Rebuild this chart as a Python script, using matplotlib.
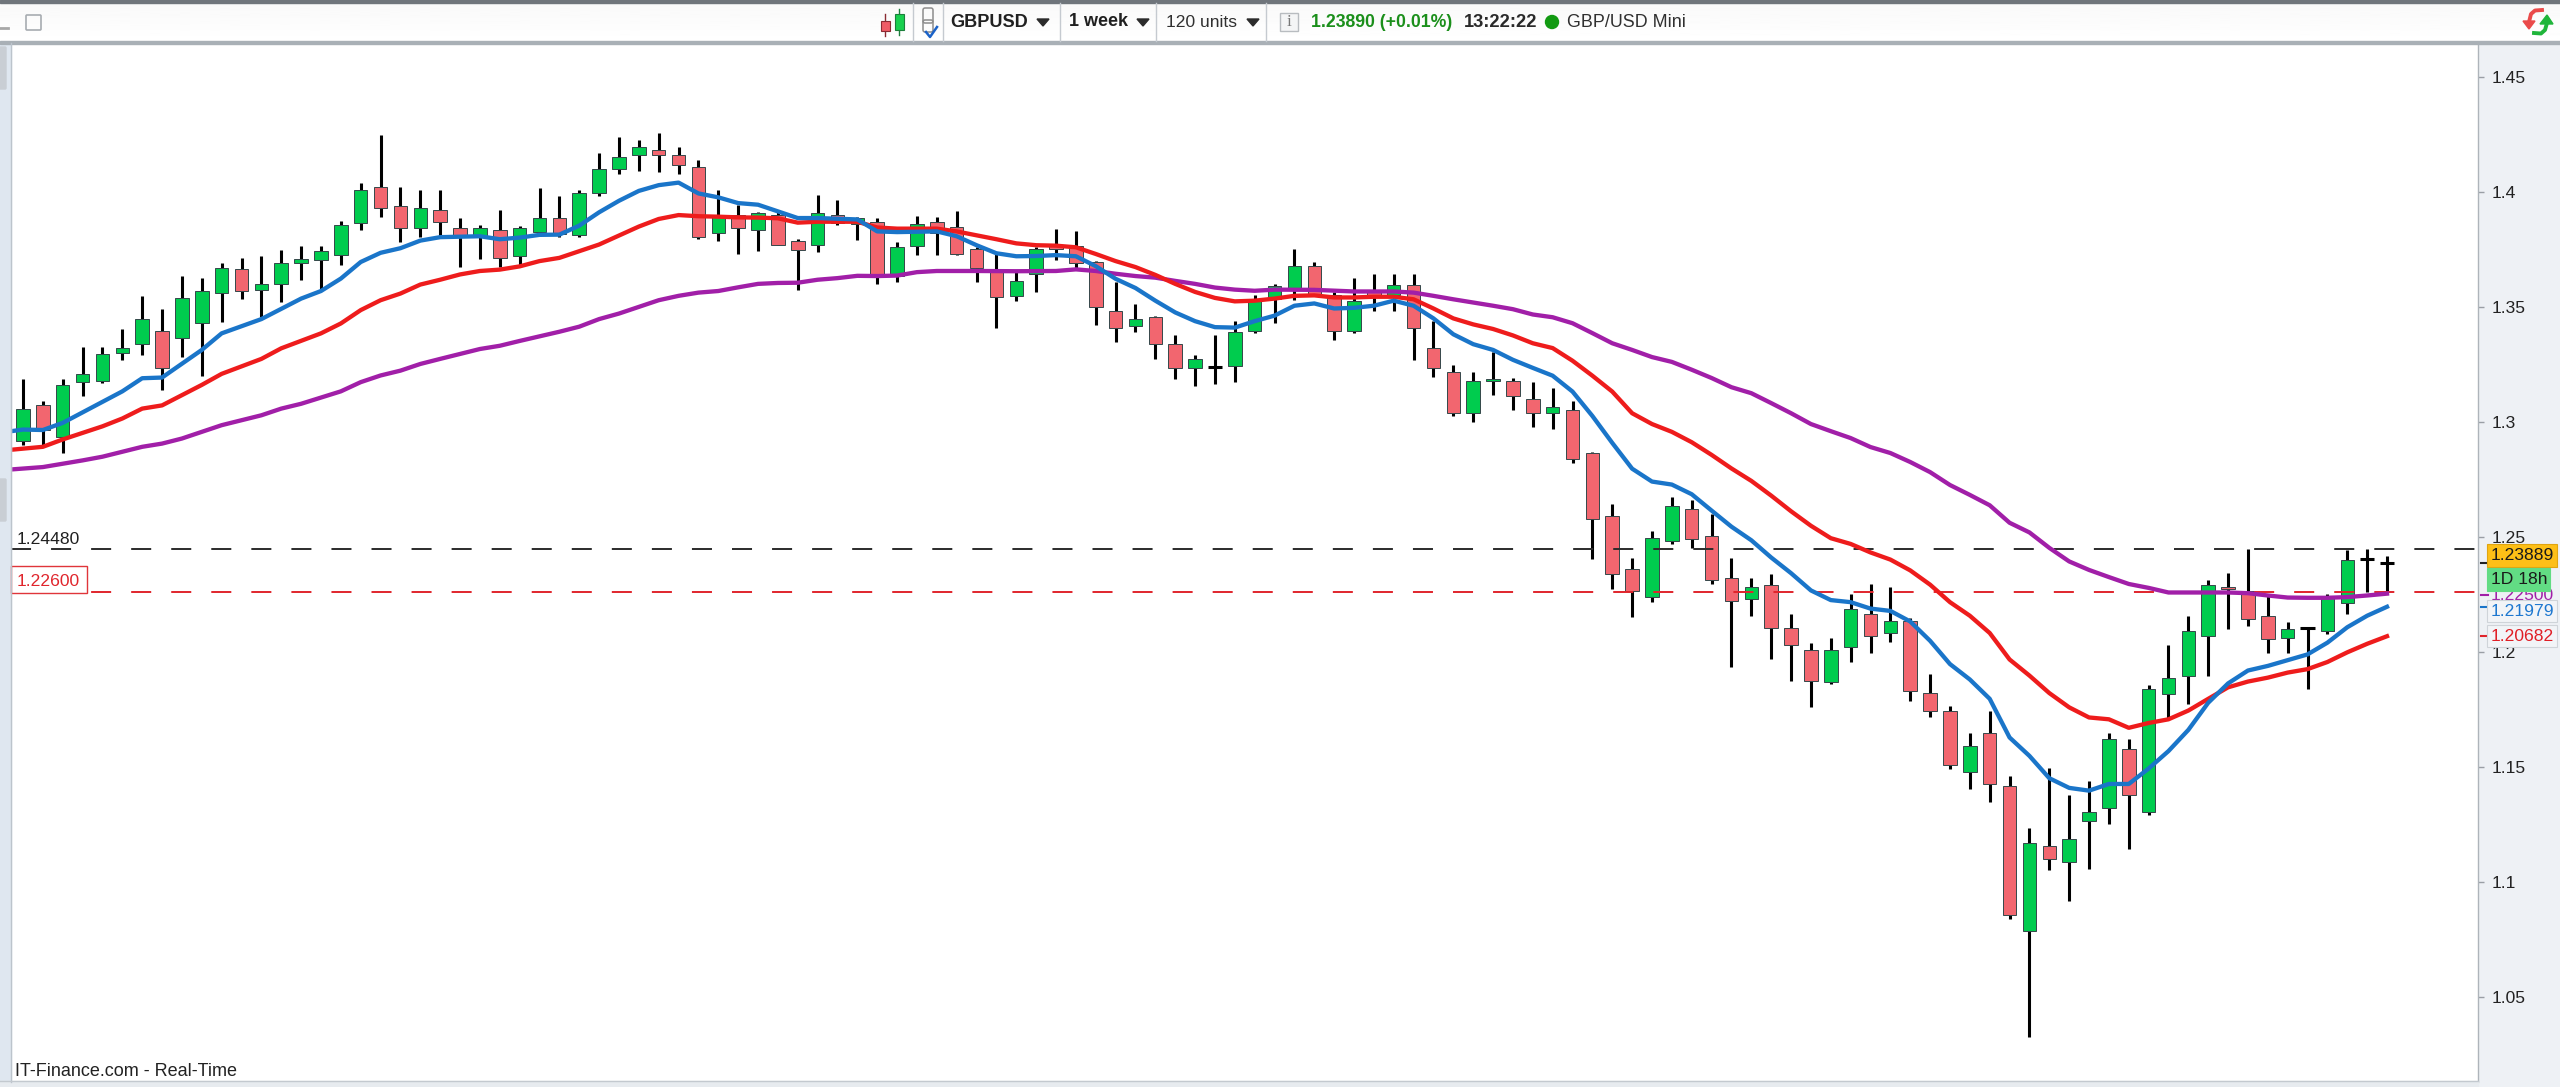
import matplotlib

matplotlib.use("Agg")

import matplotlib.pyplot as plt
import numpy as np
from matplotlib.patches import Circle, FancyBboxPatch, Polygon, Rectangle

plt.rcParams["font.family"] = ["Liberation Sans", "DejaVu Sans"]

WIDTH = 2560
HEIGHT = 1087

# weekly candles
opens = [
    1.2919, 1.3072, 1.2934, 1.3173, 1.3179, 1.3301, 1.3337, 1.3396, 1.3366, 1.3431,
    1.3561, 1.3663, 1.3575, 1.3598, 1.3689, 1.3705, 1.3726, 1.3865, 1.4023, 1.3937,
    1.3842, 1.3922, 1.3843, 1.3807, 1.3836, 1.3719, 1.3827, 1.3886, 1.3813, 1.3993,
    1.4101, 1.4160, 1.4182, 1.4160, 1.4110, 1.3820, 1.3901, 1.3836, 1.3901, 1.3785,
    1.3771, 1.3899, 1.3859, 1.3868, 1.3636, 1.3764, 1.3868, 1.3845, 1.3751, 1.3665,
    1.3548, 1.3642, 1.3764, 1.3764, 1.3694, 1.3481, 1.3417, 1.3455, 1.3338, 1.3235,
    1.3239, 1.3244, 1.3395, 1.3536, 1.3582, 1.3679, 1.3553, 1.3397, 1.3567, 1.3553,
    1.3593, 1.3321, 1.3215, 1.3041, 1.3177, 1.3179, 1.3098, 1.3041, 1.3050, 1.2866,
    1.2593, 1.2359, 1.2239, 1.2483, 1.2620, 1.2503, 1.2323, 1.2229, 1.2290, 1.2106,
    1.2010, 1.1872, 1.2024, 1.2165, 1.2083, 1.2135, 1.1824, 1.1743, 1.1477, 1.1650,
    1.1418, 1.0788, 1.1158, 1.1090, 1.1265, 1.1322, 1.1578, 1.1306, 1.1817, 1.1896,
    1.2069, 1.2281, 1.2264, 1.2158, 1.2062, 1.2103, 1.2091, 1.2215, 1.2404, 1.2389,
]
highs = [
    1.3187, 1.3092, 1.3187, 1.3324, 1.3324, 1.3404, 1.3548, 1.3490, 1.3634, 1.3625,
    1.3692, 1.3713, 1.3720, 1.3749, 1.3764, 1.3764, 1.3872, 1.4038, 1.4247, 1.4023,
    1.4009, 1.4009, 1.3886, 1.3857, 1.3922, 1.3850, 1.4016, 1.3980, 1.4009, 1.4167,
    1.4239, 1.4225, 1.4254, 1.4196, 1.4138, 1.4009, 1.3944, 1.3911, 1.3915, 1.3793,
    1.3987, 1.3966, 1.3892, 1.3885, 1.3780, 1.3897, 1.3892, 1.3917, 1.3759, 1.3730,
    1.3660, 1.3759, 1.3840, 1.3831, 1.3699, 1.3608, 1.3514, 1.3462, 1.3376, 1.3290,
    1.3376, 1.3438, 1.3553, 1.3600, 1.3751, 1.3694, 1.3565, 1.3627, 1.3644, 1.3644,
    1.3644, 1.3438, 1.3249, 1.3215, 1.3304, 1.3192, 1.3172, 1.3149, 1.3089, 1.2868,
    1.2643, 1.2411, 1.2527, 1.2672, 1.2663, 1.2599, 1.2411, 1.2323, 1.2338, 1.2165,
    1.2041, 1.2062, 1.2251, 1.2296, 1.2281, 1.2150, 1.1903, 1.1766, 1.1650, 1.1743,
    1.1460, 1.1237, 1.1497, 1.1381, 1.1440, 1.1650, 1.1623, 1.1859, 1.2032, 1.2158,
    1.2315, 1.2343, 1.2448, 1.2242, 1.2130, 1.2103, 1.2251, 1.2444, 1.2448, 1.2416,
]
lows = [
    1.2902, 1.2895, 1.2866, 1.3111, 1.3169, 1.3270, 1.3291, 1.3140, 1.3284, 1.3198,
    1.3435, 1.3536, 1.3457, 1.3522, 1.3615, 1.3572, 1.3680, 1.3832, 1.3889, 1.3781,
    1.3803, 1.3807, 1.3673, 1.3709, 1.3673, 1.3680, 1.3810, 1.3803, 1.3803, 1.3983,
    1.4077, 1.4091, 1.4084, 1.4077, 1.3796, 1.3788, 1.3731, 1.3745, 1.3767, 1.3572,
    1.3738, 1.3856, 1.3790, 1.3601, 1.3610, 1.3725, 1.3725, 1.3725, 1.3608, 1.3407,
    1.3527, 1.3565, 1.3703, 1.3665, 1.3421, 1.3347, 1.3393, 1.3275, 1.3187, 1.3158,
    1.3167, 1.3175, 1.3385, 1.3428, 1.3531, 1.3548, 1.3356, 1.3386, 1.3484, 1.3484,
    1.3270, 1.3196, 1.3024, 1.3000, 1.3115, 1.3051, 1.2978, 1.2969, 1.2820, 1.2406,
    1.2273, 1.2153, 1.2217, 1.2471, 1.2454, 1.2298, 1.1935, 1.2158, 1.1970, 1.1876,
    1.1760, 1.1861, 1.1956, 1.1998, 1.2044, 1.1788, 1.1718, 1.1492, 1.1406, 1.1348,
    1.0841, 1.0328, 1.1052, 1.0920, 1.1058, 1.1253, 1.1146, 1.1290, 1.1704, 1.1775,
    1.1898, 1.2101, 1.2115, 1.1994, 1.1998, 1.1839, 1.2079, 1.2167, 1.2259, 1.2259,
]
closes = [
    1.3058, 1.2967, 1.3159, 1.3208, 1.3295, 1.3323, 1.3447, 1.3236, 1.3540, 1.3569,
    1.3670, 1.3568, 1.3598, 1.3692, 1.3706, 1.3742, 1.3857, 1.4009, 1.3928, 1.3842,
    1.3930, 1.3870, 1.3803, 1.3843, 1.3712, 1.3843, 1.3886, 1.3817, 1.3994, 1.4101,
    1.4153, 1.4196, 1.4160, 1.4117, 1.3804, 1.3894, 1.3842, 1.3908, 1.3770, 1.3749,
    1.3908, 1.3865, 1.3885, 1.3636, 1.3759, 1.3859, 1.3819, 1.3728, 1.3670, 1.3541,
    1.3613, 1.3751, 1.3751, 1.3691, 1.3498, 1.3410, 1.3448, 1.3338, 1.3235, 1.3273,
    1.3239, 1.3390, 1.3527, 1.3589, 1.3679, 1.3553, 1.3397, 1.3527, 1.3553, 1.3593,
    1.3410, 1.3235, 1.3039, 1.3179, 1.3187, 1.3112, 1.3041, 1.3064, 1.2837, 1.2577,
    1.2339, 1.2265, 1.2497, 1.2634, 1.2491, 1.2313, 1.2221, 1.2281, 1.2106, 1.2032,
    1.1874, 1.2010, 1.2187, 1.2069, 1.2135, 1.1829, 1.1743, 1.1511, 1.1590, 1.1425,
    1.0858, 1.1171, 1.1099, 1.1186, 1.1304, 1.1623, 1.1381, 1.1839, 1.1889, 1.2091,
    1.2293, 1.2273, 1.2142, 1.2056, 1.2099, 1.2103, 1.2234, 1.2402, 1.2404, 1.2389,
]

# moving averages, as (candle index, level)
blue_x = [-1, 0, 1, 2, 5, 6, 7, 9, 10, 12, 14, 15, 16, 17, 18, 19, 20, 21, 23, 24, 25, 26, 27, 28,
          29, 30, 31, 32, 33, 34, 35, 36, 37, 38, 39, 40, 42, 43, 44, 46] + list(range(47, 120))
blue_ma = [
    1.2955, 1.2967, 1.2965, 1.2996, 1.3133, 1.3190, 1.3193, 1.3313, 1.3385, 1.3447,
    1.3536, 1.3569, 1.3623, 1.3695, 1.3735, 1.3755, 1.3788, 1.3803, 1.3807, 1.3794,
    1.3801, 1.3813, 1.3814, 1.3853, 1.3911, 1.3961, 1.4004, 1.4029, 1.4040, 1.3993,
    1.3976, 1.3951, 1.3944, 1.3915, 1.3886, 1.3886, 1.3880, 1.3828, 1.3825, 1.3828,
    1.3807, 1.3768, 1.3733, 1.3720, 1.3721, 1.3725, 1.3720, 1.3677, 1.3622, 1.3582,
    1.3527, 1.3476, 1.3438, 1.3412, 1.3410, 1.3438, 1.3462, 1.3505, 1.3515, 1.3493,
    1.3496, 1.3505, 1.3527, 1.3505, 1.3450, 1.3381, 1.3338, 1.3313, 1.3270, 1.3235,
    1.3201, 1.3132, 1.3026, 1.2909, 1.2797, 1.2741, 1.2728, 1.2686, 1.2615, 1.2545,
    1.2486, 1.2411, 1.2343, 1.2268, 1.2226, 1.2217, 1.2189, 1.2179, 1.2133, 1.2049,
    1.1948, 1.1881, 1.1797, 1.1629, 1.1549, 1.1452, 1.1410, 1.1398, 1.1427, 1.1427,
    1.1494, 1.1570, 1.1662, 1.1780, 1.1864, 1.1920, 1.1940, 1.1965, 1.1990, 1.2041,
    1.2108, 1.2158, 1.2197,
]
red_x = [-1, 1, 2, 4, 5, 6, 7, 9, 10, 12, 13, 15, 16, 17, 18, 19, 20, 21, 22, 23, 24, 25, 26, 27,
         28, 29, 30, 31, 32, 33, 34, 35, 36, 37, 38, 39, 40, 42, 43, 44, 46] + list(range(47, 120))
red_ma = [
    1.2876, 1.2892, 1.2924, 1.2981, 1.3015, 1.3058, 1.3072, 1.3161, 1.3209, 1.3274,
    1.3320, 1.3385, 1.3428, 1.3486, 1.3529, 1.3558, 1.3597, 1.3618, 1.3641, 1.3656,
    1.3662, 1.3676, 1.3699, 1.3713, 1.3742, 1.3771, 1.3810, 1.3849, 1.3882, 1.3899,
    1.3894, 1.3892, 1.3889, 1.3888, 1.3885, 1.3866, 1.3870, 1.3870, 1.3845, 1.3840, 1.3840,
    1.3828, 1.3811, 1.3794, 1.3776, 1.3768, 1.3766, 1.3759, 1.3730, 1.3699, 1.3673,
    1.3639, 1.3600, 1.3565, 1.3539, 1.3524, 1.3527, 1.3536, 1.3548, 1.3550, 1.3541,
    1.3541, 1.3544, 1.3544, 1.3533, 1.3493, 1.3450, 1.3424, 1.3404, 1.3376, 1.3342,
    1.3321, 1.3266, 1.3201, 1.3132, 1.3038, 1.2991, 1.2957, 1.2912, 1.2857, 1.2798,
    1.2744, 1.2680, 1.2612, 1.2549, 1.2495, 1.2470, 1.2433, 1.2402, 1.2355, 1.2293,
    1.2217, 1.2158, 1.2083, 1.1968, 1.1898, 1.1822, 1.1760, 1.1716, 1.1708, 1.1671,
    1.1692, 1.1708, 1.1746, 1.1797, 1.1847, 1.1872, 1.1889, 1.1911, 1.1926, 1.1957,
    1.1999, 1.2036, 1.2069,
]
purple_x = [-1, 1, 3, 4, 6, 7, 8, 10, 12, 13, 14, 16, 17, 18, 19, 20, 21, 23, 24, 25, 27, 28, 29,
            30, 31, 32, 33, 34, 35, 36, 37, 38, 39, 40, 41, 42, 43, 44, 45, 46, 48, 50, 52, 53, 54,
            55, 56, 57, 58, 59, 60, 61, 62, 63, 65, 67, 69] + list(range(70, 120))
purple_ma = [
    1.2791, 1.2804, 1.2833, 1.2849, 1.2892, 1.2906, 1.2928, 1.2986, 1.3029, 1.3058,
    1.3079, 1.3133, 1.3173, 1.3202, 1.3223, 1.3252, 1.3274, 1.3317, 1.3331, 1.3352,
    1.3392, 1.3414, 1.3447, 1.3471, 1.3500, 1.3529, 1.3548, 1.3562, 1.3569, 1.3585,
    1.3600, 1.3604, 1.3605, 1.3618, 1.3625, 1.3635, 1.3634, 1.3636, 1.3651, 1.3656,
    1.3656, 1.3655, 1.3656, 1.3663, 1.3656, 1.3644, 1.3634, 1.3627, 1.3613, 1.3600,
    1.3584, 1.3575, 1.3570, 1.3575, 1.3574, 1.3567, 1.3567, 1.3562, 1.3548, 1.3533,
    1.3519, 1.3505, 1.3490, 1.3467, 1.3455, 1.3429, 1.3386, 1.3342, 1.3313, 1.3282,
    1.3261, 1.3227, 1.3191, 1.3151, 1.3125, 1.3082, 1.3038, 1.2991, 1.2960, 1.2930,
    1.2891, 1.2865, 1.2826, 1.2782, 1.2726, 1.2683, 1.2638, 1.2562, 1.2520, 1.2453,
    1.2394, 1.2357, 1.2326, 1.2296, 1.2279, 1.2259, 1.2259, 1.2259, 1.2259, 1.2256,
    1.2246, 1.2237, 1.2236, 1.2236, 1.2239, 1.2246, 1.2254,
]

axis_ticks = [1.05, 1.1, 1.15, 1.2, 1.25, 1.3, 1.35, 1.4, 1.45]
resistance = 1.2448
support = 1.2260
last_price = 1.23889
purple_last = 1.22500
blue_last = 1.21979
red_last = 1.20682


def add_tag(ui, top, bottom, right, text, face, edge, color):
    ui.add_patch(Rectangle((2487, top), right - 2487, bottom - top, facecolor=face,
                           edgecolor=edge, linewidth=0.8, zorder=2))
    ui.text(2491, (top + bottom) / 2 + 0.5, text, color=color, fontsize=12.6,
            ha="left", va="center", zorder=3)


def dropdown(ui, x, y):
    ui.add_patch(Polygon([(x - 6, y - 3), (x + 6, y - 3), (x, y + 4)], color="#2b2b2b"))


def draw_toolbar(ui):
    ui.imshow(np.linspace(0.975, 1.0, 32).reshape(-1, 1), extent=(0, WIDTH, 42, 2),
              cmap="gray", vmin=0, vmax=1, aspect="auto", zorder=1)
    ui.add_patch(Rectangle((0, 0), WIDTH, 3, color="#6f757b", zorder=2))
    ui.add_patch(Rectangle((0, 41), WIDTH, 2.5, color="#a9b0b6", zorder=2))
    ui.set_xlim(0, WIDTH)
    ui.set_ylim(HEIGHT, 0)

    for x in (913, 943, 1059.5, 1156, 1266):
        ui.plot([x, x], [3, 41], color="#c5cad0", lw=1.0, zorder=3)

    # candle icon
    ui.plot([885, 885], [14, 36], color="#8a2b33", lw=1.0, zorder=3)
    ui.add_patch(Rectangle((881, 21), 8.5, 10, facecolor="#ef5b66", edgecolor="#8a2b33", lw=0.8, zorder=4))
    ui.plot([899, 899], [9, 35], color="#1c7f3c", lw=1.0, zorder=3)
    ui.add_patch(Rectangle((894.5, 14), 9, 16, facecolor="#18d04f", edgecolor="#1c7f3c", lw=0.8, zorder=4))

    # chain and tick icon
    ui.add_patch(FancyBboxPatch((925, 10), 6, 11, boxstyle="round,pad=2", fill=False, ec="#8d8d8d", lw=1.1, zorder=3))
    ui.add_patch(FancyBboxPatch((925, 22), 6, 8, boxstyle="round,pad=2", fill=False, ec="#8d8d8d", lw=1.1, zorder=3))
    ui.plot([926, 930, 937], [32, 37, 27], color="#1a62c8", lw=1.8, zorder=4)

    ui.text(950, 22.5, "GBPUSD", fontsize=13.1, fontweight="bold", color="#202020", va="center", zorder=4)
    dropdown(ui, 1043, 22)
    ui.text(1069, 21.5, "1 week", fontsize=13.0, fontweight="bold", color="#202020", va="center", zorder=4)
    dropdown(ui, 1143, 22)
    ui.text(1166, 22.5, "120 units", fontsize=12.6, color="#303030", va="center", zorder=4)
    dropdown(ui, 1253, 22)

    ui.add_patch(Rectangle((1280, 13), 18, 18, facecolor="#f4f5f6", edgecolor="#b8bcc0", lw=1.0, zorder=4))
    ui.text(1289, 22.5, "i", fontsize=12.5, family="Liberation Serif", color="#777777",
            ha="center", va="center", zorder=5)
    ui.text(1311, 22.5, "1.23890 (+0.01%)", fontsize=12.7, fontweight="bold", color="#1b8f1b", va="center", zorder=4)
    ui.text(1464, 22.5, "13:22:22", fontsize=13.2, fontweight="bold", color="#2a2a2a", va="center", zorder=4)
    ui.add_patch(Circle((1552, 22), 6.5, color="#129a12", zorder=4))
    ui.text(1567, 22.5, "GBP/USD Mini", fontsize=12.9, color="#303030", va="center", zorder=4)

    # window buttons
    ui.plot([0, 8], [28, 28], color="#a7a7a7", lw=2.0, zorder=3)
    ui.add_patch(FancyBboxPatch((27, 16), 13, 13, boxstyle="round,pad=1", fill=False, ec="#a7acb1", lw=1.2, zorder=3))

    # refresh icon, top right
    ui.plot([2542, 2535, 2531, 2529], [10, 10.5, 14, 22], color="#ea4a4a", lw=2.8, zorder=4)
    ui.add_patch(Polygon([(2523, 21), (2535, 21), (2529, 29)], color="#ea4a4a", zorder=4))
    ui.plot([2534, 2541, 2545, 2547], [33, 33.5, 30, 23], color="#1fb53a", lw=2.8, zorder=4)
    ui.add_patch(Polygon([(2540, 24), (2553, 24), (2547, 15)], color="#1fb53a", zorder=4))


def main() -> None:
    fig = plt.figure(figsize=(WIDTH / 100, HEIGHT / 100), dpi=100, facecolor="#eef1f5")

    # chart panel, in pixels of the full screenshot
    left, right, top, bottom = 11, 2478, 42, 1082
    ax = fig.add_axes([left / WIDTH, 1 - bottom / HEIGHT, (right - left) / WIDTH, (bottom - top) / HEIGHT])
    ax.set_facecolor("white")

    xs = np.arange(len(closes))
    o = np.array(opens)
    c = np.array(closes)
    doji = o == c
    colors = ["#00cc4e" if close >= open_ else "#f2666f" for open_, close in zip(opens, closes)]

    ax.vlines(xs, lows, highs, color="black", lw=2.2, zorder=2)
    ax.bar(xs[~doji], (c - o)[~doji], bottom=o[~doji], width=0.68, color=np.array(colors)[~doji],
           edgecolor="#34474a", linewidth=0.7, zorder=3)
    ax.hlines(c[doji], xs[doji] - 0.36, xs[doji] + 0.36, color="black", lw=2.2, zorder=3)

    ax.axhline(resistance, color="#2b2b2b", lw=1.4, dashes=(10.3, 10.3), zorder=4)
    ax.axhline(support, color="#e0252c", lw=1.4, dashes=(10.3, 10.3), zorder=4)

    ax.plot(purple_x, purple_ma, color="#a11fa8", lw=3.1, zorder=5)
    ax.plot(red_x, red_ma, color="#ee1c1c", lw=3.1, zorder=6)
    ax.plot(blue_x, blue_ma, color="#1a75c9", lw=3.1, zorder=7)

    ax.set_xlim(-0.604, 123.58)
    ax.set_ylim(1.0132, 1.4651)
    ax.set_xticks([])
    ax.yaxis.tick_right()
    ax.set_yticks(axis_ticks)
    ax.set_yticklabels([f"{t:g}" for t in axis_ticks], fontsize=12.6, color="#222222")
    ax.tick_params(axis="y", length=4.5, width=1.0, color="#9a9fa5", pad=5)
    for side in ("top", "left", "bottom"):
        ax.spines[side].set_visible(False)
    ax.spines["right"].set_color("#aeb4ba")
    ax.spines["right"].set_linewidth(1.0)

    # coloured price ticks next to the tags
    for level, color in ((last_price, "#222222"), (purple_last, "#a11fa8"),
                         (blue_last, "#1a75c9"), (red_last, "#e0252c")):
        ax.plot([1.0014, 1.004], [level, level], color=color, lw=1.5,
                transform=ax.get_yaxis_transform(), clip_on=False, zorder=8)

    # overlay in screenshot pixels for the toolbar, tags and side strip
    ui = fig.add_axes([0, 0, 1, 1], facecolor="none", zorder=5)
    ui.axis("off")
    draw_toolbar(ui)

    ui.add_patch(Rectangle((0, 43), 11, HEIGHT - 43, color="#dfe7f0"))
    ui.plot([11, 11], [43, 1082], color="#bcc4cc", lw=1.0)
    ui.add_patch(FancyBboxPatch((0, 48), 5, 40, boxstyle="round,pad=1", color="#c9ced4"))
    ui.add_patch(FancyBboxPatch((0, 480), 5, 40, boxstyle="round,pad=1", color="#c9ced4"))
    ui.add_patch(Rectangle((0, 1081), 2478, 6, color="#e7ebef"))
    ui.plot([0, 2478], [1081, 1081], color="#c3c9cf", lw=1.0)

    ui.text(17, 539, f"{resistance:.5f}", fontsize=12.6, color="#202020", va="center")
    ui.add_patch(Rectangle((11, 566), 76, 27, facecolor="white", edgecolor="#e0353a", lw=1.0))
    ui.text(17, 581, f"{support:.5f}", fontsize=12.6, color="#e0252c", va="center")
    ui.text(15, 1072, "IT-Finance.com - Real-Time", fontsize=13.0, color="#222222", va="center")

    # purple level label sits behind the neighbouring tags
    ui.text(2491, 596, f"{purple_last:.5f}", color="#a11fa8", fontsize=12.6, va="center", zorder=1.5)
    add_tag(ui, 544, 567, 2557, f"{last_price:.5f}", "#fdbf17", "#e0a510", "#1a1a1a")
    add_tag(ui, 568, 591, 2550, "1D 18h", "#62dc84", "#62dc84", "#1a1a1a")
    add_tag(ui, 600, 622, 2557, f"{blue_last:.5f}", "#f2f4f7", "#cfd4d9", "#1e78d0")
    add_tag(ui, 625, 647, 2557, f"{red_last:.5f}", "#f2f4f7", "#cfd4d9", "#e01f26")

    ui.set_xlim(0, WIDTH)
    ui.set_ylim(HEIGHT, 0)

    fig.savefig("out.png", dpi=100)


if __name__ == "__main__":
    main()
